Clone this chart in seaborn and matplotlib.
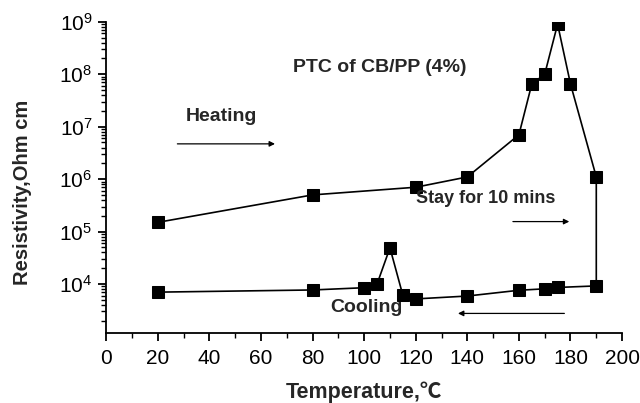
import matplotlib
matplotlib.use("Agg")
import matplotlib.pyplot as plt
import matplotlib.ticker as mticker
import seaborn as sns
import pandas as pd
import numpy as np

# Heating branch (20 -> 190 C)
heat_temp = [20, 80, 120, 140, 160, 165, 170, 175, 180, 190]
heat_res = [1.5e5, 5.0e5, 7.0e5, 1.1e6, 7.0e6, 6.5e7, 1.0e8, 9.0e8, 6.5e7, 1.1e6]
# Cooling branch (190 -> 20 C)
cool_temp = [190, 175, 170, 160, 140, 120, 115, 110, 105, 100, 80, 20]
cool_res = [9.2e3, 8.6e3, 8.1e3, 7.6e3, 5.9e3, 5.2e3, 6.1e3, 4.9e4, 1.0e4, 8.5e3, 7.7e3, 7.0e3]

x_ticks = [0, 20, 40, 60, 80, 100, 120, 140, 160, 180, 200]

sns.set_theme(style="ticks")
plt.rcParams['font.family'] = ['Liberation Sans', 'DejaVu Sans']
plt.rcParams['mathtext.fontset'] = 'custom'
plt.rcParams['mathtext.rm'] = 'Liberation Sans'
plt.rcParams['mathtext.it'] = 'Liberation Sans'

df = pd.DataFrame({
    "Temperature": heat_temp + cool_temp,
    "Resistivity": heat_res + cool_res,
})

fig = plt.figure(figsize=(6.4, 4.03), dpi=100)
ax = fig.add_axes([0.166, 0.173, 0.806, 0.773])

sns.lineplot(data=df, x="Temperature", y="Resistivity", sort=False, ax=ax,
             color="black", linewidth=1.2, marker="s", markersize=8,
             markeredgecolor="black", markerfacecolor="black", estimator=None)

ax.set_yscale("log")
ax.set_xlim(0, 200)
ax.set_ylim(1.15e3, 1e9)
ax.set_xticks(x_ticks)
ax.xaxis.set_minor_locator(mticker.MultipleLocator(10))
ax.yaxis.set_major_locator(mticker.LogLocator(base=10, numticks=20))
ax.yaxis.set_minor_locator(mticker.LogLocator(base=10, subs=np.arange(2, 10), numticks=20))
ax.yaxis.set_minor_formatter(mticker.NullFormatter())
ax.yaxis.set_major_formatter(mticker.FuncFormatter(lambda v, p: r"$10^{%d}$" % round(np.log10(v))))

for s in ["top", "right"]:
    ax.spines[s].set_visible(False)
for s in ["left", "bottom"]:
    ax.spines[s].set_linewidth(1.3)
    ax.spines[s].set_color("black")

ax.tick_params(axis="both", which="major", direction="out", length=6, width=1.3,
               labelsize=15, colors="black")
ax.tick_params(axis="x", which="major", pad=5)
ax.tick_params(axis="y", which="major", pad=4)
ax.tick_params(axis="both", which="minor", direction="out", length=3.5, width=1.0, colors="black")

ax.set_xlabel("Temperature,℃", fontsize=15.5, fontweight="bold",
              family=['Liberation Sans', 'Noto Sans CJK SC', 'DejaVu Sans'])
ax.set_ylabel("Resistivity,Ohm cm", fontsize=14.5, fontweight="bold")
ax.xaxis.set_label_coords(0.5, -0.19)
ax.xaxis.label.set_va("center")
ax.yaxis.set_label_coords(-0.163, 0.453)
ax.yaxis.label.set_va("center")

ax.text(106, 1.35e8, "PTC of CB/PP (4%)", fontsize=14, fontweight="bold",
        ha="center", va="center")
ax.text(44.5, 1.55e7, "Heating", fontsize=14, fontweight="bold", ha="center", va="center")
ax.annotate("", xy=(66.5, 4.7e6), xytext=(26.5, 4.7e6),
            arrowprops=dict(arrowstyle="-|>", color="black", lw=0.9, mutation_scale=8))
ax.text(120, 4.2e5, "Stay for 10 mins", fontsize=13, fontweight="bold", ha="left", va="center")
ax.annotate("", xy=(180.6, 1.55e5), xytext=(156.6, 1.55e5),
            arrowprops=dict(arrowstyle="-|>", color="black", lw=0.9, mutation_scale=8))
ax.text(87, 3.6e3, "Cooling", fontsize=14, fontweight="bold", ha="left", va="center")
ax.annotate("", xy=(135.3, 2.75e3), xytext=(178.7, 2.75e3),
            arrowprops=dict(arrowstyle="-|>", color="black", lw=0.9, mutation_scale=8))

fig.savefig("out.png", dpi=100)
